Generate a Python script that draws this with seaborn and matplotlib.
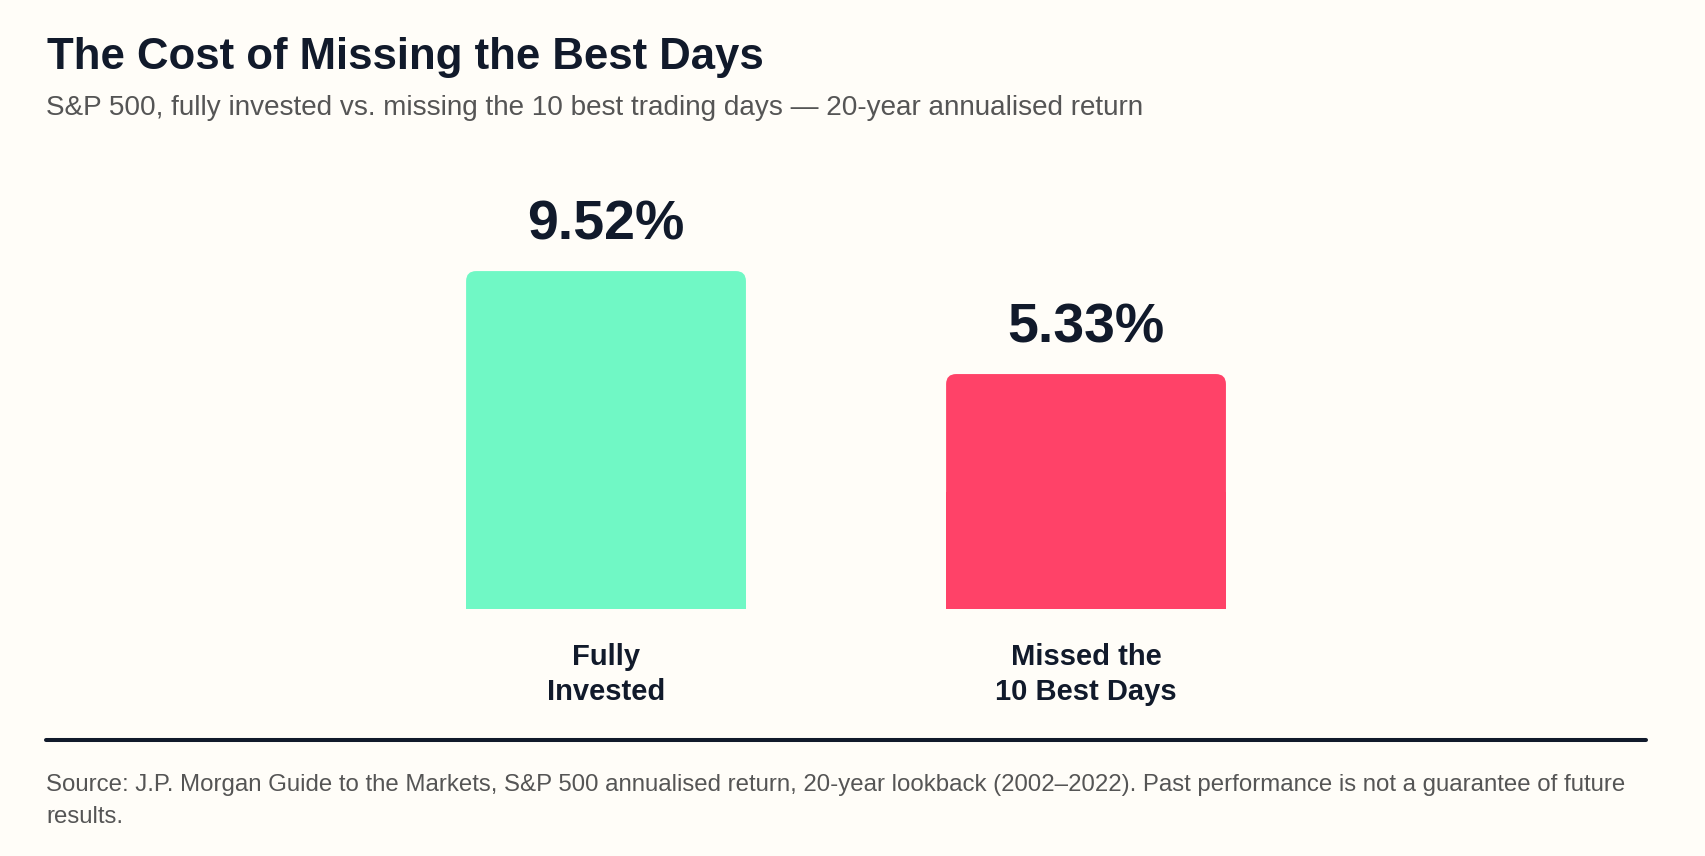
import pandas as pd
import seaborn as sns
import matplotlib
matplotlib.use("Agg")
import matplotlib.pyplot as plt
from matplotlib.patches import FancyBboxPatch, Rectangle
from matplotlib.lines import Line2D

# data
strategies = ["Fully\nInvested", "Missed the\n10 Best Days"]
returns = [9.52, 5.33]
bar_colors = ["#70f8c5", "#ff4268"]

title = "The Cost of Missing the Best Days"
subtitle = "S&P 500, fully invested vs. missing the 10 best trading days \u2014 20-year annualised return"
footnote = ("Source: J.P. Morgan Guide to the Markets, S&P 500 annualised return, 20-year lookback "
            "(2002\u20132022). Past performance is not a guarantee of future\nresults.")

# style
BG = "#fffdf8"
INK = "#111a2b"
GREY = "#555555"
W, H = 1706, 856
y_floor, y_top = -4.23, 14.04
x_lo, x_hi = -1.1667, 2.1833
corner_px = 10

sns.set_theme(style="white")
plt.rcParams["font.family"] = ["Liberation Sans", "DejaVu Sans"]

fig = plt.figure(figsize=(W / 100, H / 100), dpi=100, facecolor=BG)
ax = fig.add_axes([46 / W, (H - 609) / H, (1654 - 46) / W, (609 - 160) / H])
ax.set_facecolor(BG)

df = pd.DataFrame({"strategy": strategies, "ret": returns})
sns.barplot(data=df, x="strategy", y="ret", hue="strategy", palette=bar_colors,
            legend=False, width=0.583, ax=ax, saturation=1)

ax.set_xlim(x_lo, x_hi)
ax.set_ylim(y_floor, y_top)

# swap plain bars for ones with rounded tops, standing on the axis floor
ax_w_px = (1654 - 46)
ax_h_px = (609 - 160)
px_x = ax_w_px / (x_hi - x_lo)
px_y = ax_h_px / (y_top - y_floor)
r = corner_px / px_x
for patch, value in zip(list(ax.patches), returns):
    x0, w = patch.get_x(), patch.get_width()
    color = patch.get_facecolor()
    patch.remove()
    h = value - y_floor
    ax.add_patch(FancyBboxPatch((x0, y_floor), w, h,
                                boxstyle=f"round,pad=0,rounding_size={r}",
                                mutation_aspect=px_x / px_y, fc=color, ec="none"))
    ax.add_patch(Rectangle((x0, y_floor), w, h / 2, fc=color, ec="none"))
    ax.annotate(f"{value:.2f}%", (x0 + w / 2, value), xytext=(0, 23),
                textcoords="offset points", ha="center", va="baseline",
                fontsize=40, fontweight="bold", color=INK)

sns.despine(ax=ax, left=True, bottom=True)
ax.set_yticks([])
ax.set_xlabel("")
ax.set_ylabel("")
ax.tick_params(axis="x", length=0, pad=24.5)
for lab in ax.get_xticklabels():
    lab.set_fontsize(21)
    lab.set_fontweight("bold")
    lab.set_color(INK)
    lab.set_linespacing(1.3)

fig.text(47 / W, (H - 69) / H, title, fontsize=31.5, fontweight="bold",
         color=INK, va="baseline")
fig.text(46 / W, (H - 115) / H, subtitle, fontsize=20.1, color=GREY, va="baseline")
fig.add_artist(Line2D([46 / W, 1646 / W], [(H - 740) / H] * 2, lw=2.9, color=INK))
# multiline baseline alignment pins the last line
fig.text(46 / W, (H - 822.7) / H, footnote, fontsize=17.3, color=GREY,
         va="baseline", linespacing=1.6)

fig.savefig("out.png", dpi=100, facecolor=BG)
